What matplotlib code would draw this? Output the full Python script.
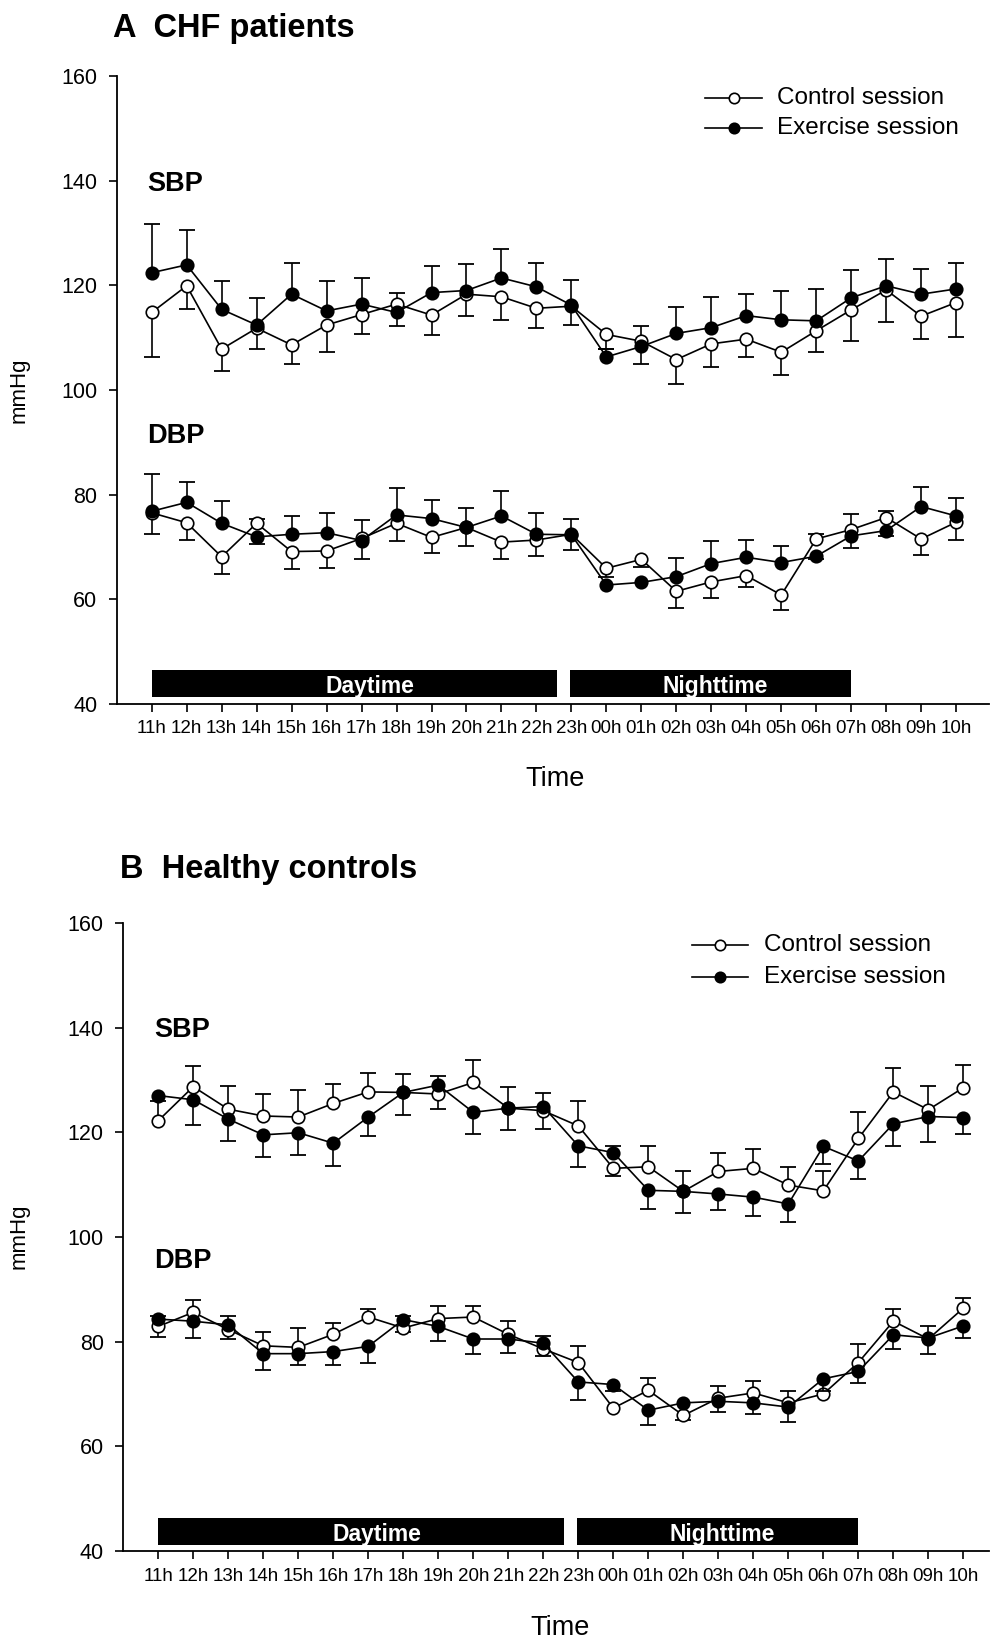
import numpy as np
import matplotlib
matplotlib.use("Agg")
import matplotlib.pyplot as plt
from matplotlib.lines import Line2D

plt.rcParams["font.family"] = ["Liberation Sans", "DejaVu Sans"]

# x axis: hourly readings, 11h through 10h the next morning
hours = ["11h", "12h", "13h", "14h", "15h", "16h", "17h", "18h", "19h", "20h",
         "21h", "22h", "23h", "00h", "01h", "02h", "03h", "04h", "05h", "06h",
         "07h", "08h", "09h", "10h"]

# A: CHF patients (means and the end of each one-sided error bar, nan = none)
chf_sbp_ctrl = [114.8, 119.9, 107.8, 111.8, 108.6, 112.4, 114.4, 116.4, 114.3, 118.3,
                117.8, 115.6, 116.0, 110.6, 109.3, 105.8, 108.8, 109.7, 107.2, 111.3,
                115.3, 119.1, 114.1, 116.7]
chf_sbp_ctrl_bar = [106.3, 115.5, 103.6, 107.9, 104.9, 107.2, 110.7, 118.6, 110.5, 114.1,
                    113.4, 111.8, 112.4, 107.9, 112.3, 101.1, 104.4, 106.3, 102.8, 107.3,
                    109.4, 113.0, 109.7, 110.2]
chf_sbp_ex = [122.4, 123.9, 115.4, 112.4, 118.3, 115.1, 116.4, 114.8, 118.6, 119.0,
              121.4, 119.7, 116.2, 106.3, 108.3, 110.8, 111.9, 114.2, 113.4, 113.2,
              117.6, 119.9, 118.3, 119.3]
chf_sbp_ex_bar = [131.8, 130.6, 120.8, 117.6, 124.2, 120.8, 121.3, 112.3, 123.7, 124.0,
                  126.9, 124.3, 121.1, 107.9, 104.9, 115.8, 117.8, 118.3, 119.0, 119.3,
                  123.0, 125.1, 123.2, 124.3]
chf_dbp_ctrl = [76.5, 74.6, 68.1, 74.5, 69.1, 69.2, 71.6, 74.5, 71.8, 73.7,
                70.9, 71.3, 72.4, 65.9, 67.6, 61.5, 63.3, 64.5, 60.8, 71.5,
                73.3, 75.6, 71.5, 74.7]
chf_dbp_ctrl_bar = [72.4, 71.3, 64.9, 75.4, 65.7, 65.9, 75.1, 71.2, 68.8, 70.2,
                    67.7, 68.2, 69.3, 64.3, 66.2, 58.4, 60.3, 62.4, 57.9, 72.4,
                    76.3, 76.8, 68.4, 71.4]
chf_dbp_ex = [76.8, 78.5, 74.5, 71.9, 72.4, 72.7, 71.2, 76.1, 75.4, 73.7,
              75.9, 72.4, 72.3, 62.7, 63.2, 64.3, 66.8, 68.0, 67.0, 68.2,
              72.1, 73.1, 77.7, 75.9]
chf_dbp_ex_bar = [83.9, 82.4, 78.8, 70.5, 75.9, 76.5, 67.7, 81.3, 78.9, 77.5,
                  80.7, 76.4, 75.4, np.nan, np.nan, 67.8, 71.1, 71.3, 70.2, 67.6,
                  69.7, 72.1, 81.4, 79.3]

# B: healthy controls
hc_sbp_ctrl = [122.2, 128.7, 124.4, 123.1, 122.9, 125.5, 127.7, 127.6, 127.3, 129.5,
               124.6, 124.1, 121.2, 113.1, 113.4, 108.7, 112.5, 113.1, 109.9, 108.8,
               118.8, 127.7, 124.3, 128.5]
hc_sbp_ctrl_bar = [126.0, 132.7, 128.8, 127.3, 128.1, 129.2, 131.4, 131.1, 124.4, 133.7,
                   128.7, 120.6, 126.0, 111.7, 117.4, 112.5, 116.0, 116.8, 113.4, 112.5,
                   123.9, 132.2, 128.8, 132.8]
hc_sbp_ex = [127.0, 126.2, 122.5, 119.5, 119.9, 117.9, 122.9, 127.6, 129.0, 123.8,
             124.6, 124.9, 117.4, 116.1, 108.9, 108.7, 108.2, 107.6, 106.3, 117.3,
             114.5, 121.6, 123.0, 122.8]
hc_sbp_ex_bar = [np.nan, 121.4, 118.4, 115.2, 115.7, 113.6, 119.3, 123.3, 130.8, 119.7,
                 120.4, 127.4, 113.4, 117.4, 105.4, 104.5, 105.2, 104.0, 102.9, 113.9,
                 111.0, 117.3, 118.1, 119.7]
hc_dbp_ctrl = [82.9, 85.6, 82.3, 79.2, 78.9, 81.4, 84.7, 82.6, 84.4, 84.7,
               81.4, 78.6, 76.0, 67.3, 70.7, 65.9, 69.2, 70.2, 68.3, 70.0,
               76.0, 83.9, 80.5, 86.4]
hc_dbp_ctrl_bar = [80.9, 88.0, 80.5, 81.8, 82.6, 83.5, 86.2, 81.8, 86.9, 86.9,
                   84.0, 77.2, 79.2, np.nan, 73.0, 65.1, 71.6, 72.4, 70.6, np.nan,
                   79.6, 86.2, 83.0, 88.4]
hc_dbp_ex = [84.3, 83.9, 83.2, 77.7, 77.7, 78.1, 79.1, 84.2, 82.9, 80.5,
             80.5, 79.7, 72.3, 71.8, 66.9, 68.3, 68.6, 68.3, 67.5, 72.9,
             74.3, 81.3, 80.7, 83.0]
hc_dbp_ex_bar = [84.8, 80.7, 84.8, 74.6, 75.6, 75.5, 76.0, 84.8, 80.2, 77.6,
                 77.8, 81.0, 68.8, 70.5, 64.0, np.nan, 66.6, 66.2, 64.7, 70.5,
                 72.1, 78.5, 77.7, 80.7]

# day / night periods in hour-index units
period_labels = ["Daytime", "Nighttime"]
period_start = [0.0, 11.95]
period_end = [11.6, 20.0]
period_text_x = [6.25, 16.1]

FS_TICK_Y = 15.5
FS_TICK_X = 13.5
MS = 9
CAP = 12


def draw_series(ax, x, mean, bar, filled, z):
    mean = np.asarray(mean, dtype=float)
    bar = np.asarray(bar, dtype=float)
    ax.vlines(x, mean, bar, color="black", lw=1.2, zorder=z)
    ax.plot(x, bar, ls="none", marker="_", ms=CAP, mew=1.3, color="black", zorder=z)
    ax.plot(x, mean, color="black", lw=1.2, marker="o", ms=MS,
            mfc="black" if filled else "white", mec="black", mew=1.2, zorder=z + 1)


def draw_panel(ax, sbp_c, sbp_cb, sbp_e, sbp_eb, dbp_c, dbp_cb, dbp_e, dbp_eb,
               xmax, dbp_label_y):
    x = np.arange(len(hours))
    draw_series(ax, x, sbp_c, sbp_cb, False, 2)
    draw_series(ax, x, dbp_c, dbp_cb, False, 2)
    draw_series(ax, x, sbp_e, sbp_eb, True, 4)
    draw_series(ax, x, dbp_e, dbp_eb, True, 4)

    # Daytime / Nighttime bars
    for lab, s, e, tx in zip(period_labels, period_start, period_end, period_text_x):
        ax.fill_between([s, e], 41.2, 46.4, color="black", lw=0, zorder=1)
        ax.text(tx, 42.0, lab, color="white", fontsize=16.5, fontweight="bold",
                ha="center", va="baseline", zorder=6)

    ax.text(-0.12, 138.1, "SBP", fontsize=19.5, fontweight="bold", ha="left", va="baseline")
    ax.text(-0.12, dbp_label_y, "DBP", fontsize=19.5, fontweight="bold", ha="left", va="baseline")

    ax.set_xlim(-1, xmax)
    ax.set_ylim(40, 160)
    ax.set_yticks(np.arange(40, 161, 20))
    ax.set_xticks(x)
    ax.set_xticklabels(hours)
    for s in ["top", "right"]:
        ax.spines[s].set_visible(False)
    for s in ["left", "bottom"]:
        ax.spines[s].set_linewidth(1.3)
    ax.tick_params(axis="y", direction="out", length=6, width=1.2, pad=8, labelsize=FS_TICK_Y)
    ax.tick_params(axis="x", direction="out", length=6, width=1.2, pad=6, labelsize=FS_TICK_X)


def draw_legend(fig, x0, x1, xt, y_rows):
    W, H = 990.0, 1642.0
    for y, filled, lab in zip(y_rows, [False, True], ["Control session", "Exercise session"]):
        yf = 1 - y / H
        xm = (x0 + x1) / 2
        fig.add_artist(Line2D([x0 / W, x1 / W], [yf, yf], color="black", lw=1.2,
                              transform=fig.transFigure))
        fig.add_artist(Line2D([xm / W], [yf], ls="none", marker="o", ms=7.5,
                              mfc="black" if filled else "white", mec="black", mew=1.2,
                              transform=fig.transFigure))
        fig.text(xt / W, yf, lab, fontsize=17.5, ha="left", va="center")


fig = plt.figure(figsize=(9.9, 16.42), dpi=100)

ax_a = fig.add_axes([0.1179, 0.5714, 0.8811, 0.3823])
draw_panel(ax_a, chf_sbp_ctrl, chf_sbp_ctrl_bar, chf_sbp_ex, chf_sbp_ex_bar,
           chf_dbp_ctrl, chf_dbp_ctrl_bar, chf_dbp_ex, chf_dbp_ex_bar, 23.94, 89.8)

ax_b = fig.add_axes([0.1245, 0.0554, 0.8744, 0.3826])
draw_panel(ax_b, hc_sbp_ctrl, hc_sbp_ctrl_bar, hc_sbp_ex, hc_sbp_ex_bar,
           hc_dbp_ctrl, hc_dbp_ctrl_bar, hc_dbp_ex, hc_dbp_ex_bar, 23.73, 94.0)

# titles
fig.text(113 / 990, 1 - 36.7 / 1642, "A  CHF patients", fontsize=23.5, fontweight="bold",
         ha="left", va="baseline")
fig.text(120 / 990, 1 - 878 / 1642, "B  Healthy controls", fontsize=23.5, fontweight="bold",
         ha="left", va="baseline")

# axis labels
fig.text(19 / 990, 1 - 390 / 1642, "mmHg", fontsize=16, rotation=90, ha="center", va="center")
fig.text(19 / 990, 1 - 1236 / 1642, "mmHg", fontsize=16, rotation=90, ha="center", va="center")
fig.text(555 / 990, 1 - 779 / 1642, "Time", fontsize=19.5, ha="center", va="center")
fig.text(560 / 990, 1 - 1628 / 1642, "Time", fontsize=19.5, ha="center", va="center")

draw_legend(fig, 705, 762, 777, [98.3, 128.3])
draw_legend(fig, 692, 748, 764, [945, 977])

fig.savefig("out.png", dpi=100)
